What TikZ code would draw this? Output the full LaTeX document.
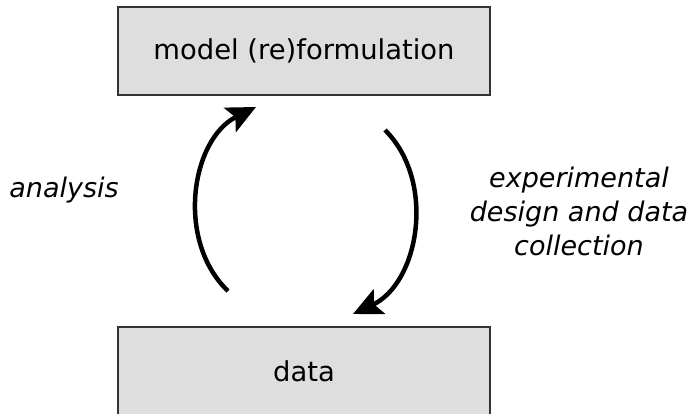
\documentclass[tikz,border=0pt]{standalone}
\usepackage{fontspec}
\setmainfont{DejaVu Sans}
\usetikzlibrary{arrows.meta}
\definecolor{boxgray}{HTML}{DEDEDE}
\definecolor{edgegray}{HTML}{333333}
\tikzset{
  stagebox/.style={draw=edgegray, line width=1.5pt, fill=boxgray,
    minimum width=372pt, minimum height=88pt, inner sep=0pt,
    font=\fontsize{27.4}{32}\selectfont},
  cyclearrow/.style={line width=4.5pt, -{Stealth[length=29pt, width=27pt, inset=6pt]}},
  steplabel/.style={font=\fontsize{27}{34}\selectfont\itshape, align=center}
}
\begin{document}
\begin{tikzpicture}[x=1pt,y=1pt]
      \useasboundingbox (0,0) rectangle (695,-413);
      % the two stages
      \node[stagebox] (model) at (304,-51) {model (re)formulation};
      \node[stagebox] (data) at (304,-371) {data};
      % labels of the two steps
      \node[steplabel, anchor=base] (analysis) at (64,-197) {analysis};
      \node[steplabel, anchor=base] (design) at (579,-255) {experimental\\design and data\\collection};
      % the cycle
      \coordinate (anaStart) at (228,-291);
      \coordinate (anaEnd) at (256,-107);
      \coordinate (expStart) at (385,-130);
      \coordinate (expEnd) at (353,-314);
      \draw[cyclearrow] (anaStart) to[bend left=55] (anaEnd);
      \draw[cyclearrow] (expStart) to[bend left=55] (expEnd);
\end{tikzpicture}
\end{document}
